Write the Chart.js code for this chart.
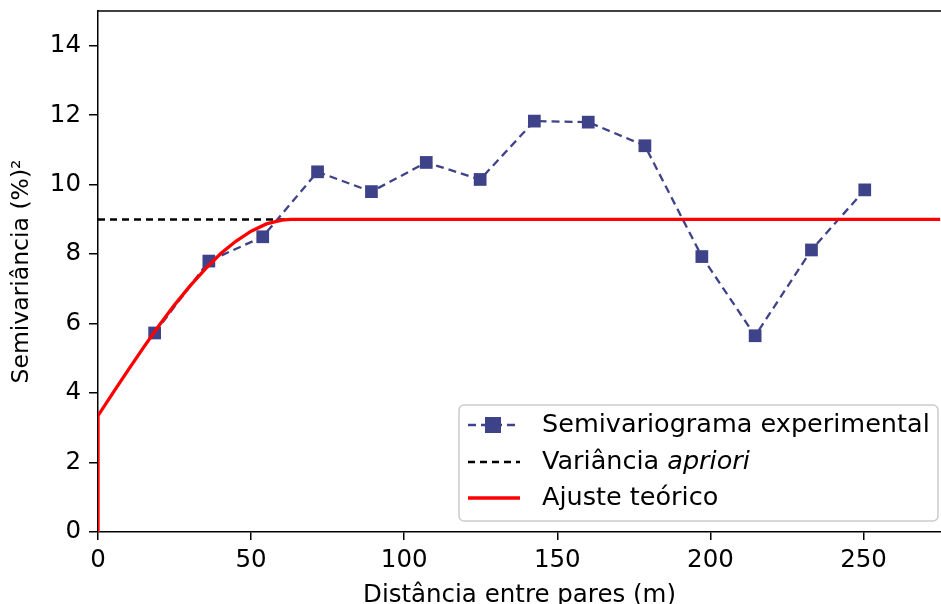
<!DOCTYPE html>
<html lang="pt">
  <head>
    <meta charset="UTF-8" />
    <title>Semivariograma</title>
    <script src="https://cdn.jsdelivr.net/npm/chart.js"></script>
    <style>
      html,
      body {
        margin: 0;
        padding: 0;
        width: 941px;
        height: 604px;
        overflow: hidden;
        background: #ffffff;
      }
      #wrap {
        position: relative;
        width: 941px;
        height: 604px;
      }
      canvas#semi {
        display: block;
      }
    </style>
  </head>
  <body>
    <div id="wrap"><canvas id="semi"></canvas></div>
    <script>
      // distancias (m) e semivariancias
      const lagDist = [18.5, 36.2, 53.8, 71.7, 89.3, 107.2, 124.8, 142.5, 160.1, 178.6, 197.2, 214.6, 233.0, 250.4];
      const gammaExp = [5.73, 7.8, 8.5, 10.37, 9.8, 10.64, 10.15, 11.83, 11.8, 11.12, 7.93, 5.65, 8.12, 9.85];

      // curva ajustada (lida ponto a ponto)
      const fitDist = [0, 0, 5, 10, 15, 20, 25, 30, 35, 40, 45, 50, 55, 60, 63, 275];
      const fitGamma = [0, 3.35, 4.02, 4.68, 5.33, 5.95, 6.54, 7.08, 7.57, 8.01, 8.37, 8.66, 8.87, 8.98, 9.0, 9.0];

      // variancia a priori
      const sillDist = [0, 275];
      const sillGamma = [9, 9];

      const xTicks = [0, 50, 100, 150, 200, 250];
      const yTicks = [0, 2, 4, 6, 8, 10, 12, 14];

      const FONT = "'DejaVu Sans', sans-serif";
      const FS = 24.5;
      const BLUE = "#3e4289";

      const toPts = (xs, ys) => xs.map((x, i) => ({ x: x, y: ys[i] }));

      // moldura superior + legenda com texto em italico
      const extras = {
        id: "extras",
        afterDraw(chart) {
          const c = chart.ctx;
          const a = chart.chartArea;
          c.save();
          c.strokeStyle = "#000";
          c.lineWidth = 1.5;
          c.beginPath();
          c.moveTo(a.left, a.top);
          c.lineTo(a.right, a.top);
          c.stroke();

          // caixa da legenda
          const bx = 459, by = 405, bw = 479, bh = 116, r = 5;
          c.beginPath();
          c.moveTo(bx + r, by);
          c.arcTo(bx + bw, by, bx + bw, by + bh, r);
          c.arcTo(bx + bw, by + bh, bx, by + bh, r);
          c.arcTo(bx, by + bh, bx, by, r);
          c.arcTo(bx, by, bx + bw, by, r);
          c.closePath();
          c.fillStyle = "rgba(255,255,255,0.8)";
          c.fill();
          c.strokeStyle = "#cccccc";
          c.lineWidth = 1.5;
          c.stroke();

          const LF = 25.5;
          const rows = [425, 462, 498];
          const lx0 = 468, lx1 = 520, tx = 542;
          c.textBaseline = "middle";
          c.font = LF + "px " + FONT;

          // linha 1
          c.strokeStyle = BLUE;
          c.lineWidth = 2.3;
          c.setLineDash([8, 5]);
          c.beginPath();
          c.moveTo(lx0, rows[0]);
          c.lineTo(lx1, rows[0]);
          c.stroke();
          c.setLineDash([]);
          c.fillStyle = BLUE;
          c.fillRect(493 - 8, rows[0] - 8, 16, 16);
          c.fillStyle = "#000";
          c.fillText("Semivariograma experimental", tx, rows[0]);

          // linha 2
          c.strokeStyle = "#000";
          c.lineWidth = 2.5;
          c.setLineDash([7, 5]);
          c.beginPath();
          c.moveTo(lx0, rows[1]);
          c.lineTo(lx1, rows[1]);
          c.stroke();
          c.setLineDash([]);
          const t2 = "Variância ";
          c.fillText(t2, tx, rows[1]);
          const w2 = c.measureText(t2).width;
          c.font = "italic " + LF + "px " + FONT;
          c.fillText("apriori", tx + w2, rows[1]);
          c.font = LF + "px " + FONT;

          // linha 3
          c.strokeStyle = "#ff0000";
          c.lineWidth = 3.3;
          c.beginPath();
          c.moveTo(lx0, rows[2]);
          c.lineTo(lx1, rows[2]);
          c.stroke();
          c.fillText("Ajuste teórico", tx, rows[2]);
          c.restore();
        },
      };

      document.addEventListener("DOMContentLoaded", function () {
        const ctx = document.getElementById("semi").getContext("2d");
        new Chart(ctx, {
          type: "scatter",
          data: {
            datasets: [
              {
                label: "Variância apriori",
                data: toPts(sillDist, sillGamma),
                showLine: true,
                borderColor: "#000000",
                borderWidth: 2.5,
                borderDash: [7, 5],
                pointRadius: 0,
                order: 3,
              },
              {
                label: "Semivariograma experimental",
                data: toPts(lagDist, gammaExp),
                showLine: true,
                borderColor: BLUE,
                backgroundColor: BLUE,
                borderWidth: 2.3,
                borderDash: [8, 5],
                pointStyle: "rect",
                pointRadius: 9,
                pointBorderWidth: 0,
                order: 2,
              },
              {
                label: "Ajuste teórico",
                data: toPts(fitDist, fitGamma),
                showLine: true,
                borderColor: "#ff0000",
                borderWidth: 3.3,
                pointRadius: 0,
                order: 1,
              },
            ],
          },
          options: {
            responsive: true,
            maintainAspectRatio: false,
            animation: false,
            layout: { autoPadding: false, padding: { top: 11, right: 0, left: 0, bottom: 0 } },
            plugins: {
              legend: { display: false },
              tooltip: { enabled: false },
            },
            scales: {
              x: {
                type: "linear",
                min: 0,
                max: 275.3,
                afterBuildTicks: (s) => {
                  s.ticks = xTicks.map((v) => ({ value: v }));
                },
                afterFit: (s) => {
                  s.height = 72;
                  s.paddingLeft = 0;
                  s.paddingRight = 0;
                },
                border: { display: true, color: "#000", width: 1.5 },
                grid: {
                  drawOnChartArea: false,
                  drawTicks: true,
                  tickLength: 8,
                  color: "#000",
                  lineWidth: 1.5,
                },
                ticks: {
                  color: "#000",
                  font: { family: FONT, size: FS },
                  padding: 6,
                  maxRotation: 0,
                },
                title: {
                  display: true,
                  text: "Distância entre pares (m)",
                  color: "#000",
                  font: { family: FONT, size: FS },
                  padding: { top: 0, bottom: -6 },
                },
              },
              y: {
                type: "linear",
                min: 0,
                max: 15,
                afterBuildTicks: (s) => {
                  s.ticks = yTicks.map((v) => ({ value: v }));
                },
                afterFit: (s) => {
                  s.width = 98;
                  s.paddingTop = 0;
                  s.paddingBottom = 0;
                },
                border: { display: true, color: "#000", width: 1.5 },
                grid: {
                  drawOnChartArea: false,
                  drawTicks: true,
                  tickLength: 9,
                  color: "#000",
                  lineWidth: 1.5,
                },
                ticks: {
                  color: "#000",
                  font: { family: FONT, size: FS },
                  padding: 8,
                },
                title: {
                  display: true,
                  text: "Semivariância (%)²",
                  color: "#000",
                  font: { family: FONT, size: 23.5 },
                  padding: { top: 8, bottom: 0 },
                },
              },
            },
          },
          plugins: [extras],
        });
      });
    </script>
  </body>
</html>
